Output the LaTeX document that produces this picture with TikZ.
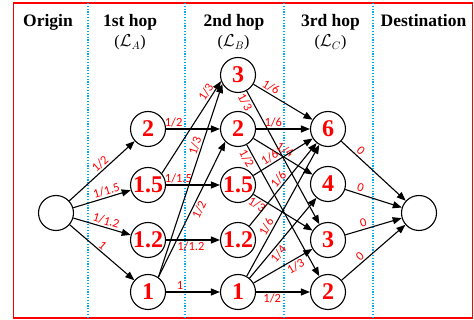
\documentclass[tikz,border=0pt]{standalone}
\usepackage{fontspec}
\setmainfont{Liberation Serif}
\newfontfamily\labfont{Carlito}
\usetikzlibrary{arrows.meta}
\definecolor{dotblue}{RGB}{0,170,240}
\begin{document}
\begin{tikzpicture}[x=1pt,y=-1pt,
  hop/.style={circle,draw,line width=1.1pt,minimum size=35pt,inner sep=0pt,text=red,font=\fontsize{24}{24}\selectfont\bfseries},
  edge/.style={line width=1.1pt,-{Triangle[length=9pt,width=7pt]}},
  lab/.style={text=red,font=\labfont\fontsize{12.5}{12.5}\selectfont,inner sep=1.5pt,sloped},
  head/.style={font=\fontsize{17.5}{18}\selectfont\bfseries,anchor=base},
  subhead/.style={font=\fontsize{16}{16}\selectfont,anchor=base},
  sepline/.style={dotblue,line width=1.3pt,dash pattern=on 1.3pt off 1.5pt}
]
\useasboundingbox (0,0) rectangle (474,320);
% frame and separators
\draw[red,line width=1.6pt] (13.5,3) rectangle (472.5,318);
\foreach \x in {88,185,284,373} \draw[sepline] (\x,3) -- (\x,318);
% headers
\node[head] (hO) at (48,27) {Origin};
\node[head] (hA) at (130,27) {1st hop};
\node[head] (hB) at (234,27) {2nd hop};
\node[head] (hC) at (330.5,27) {3rd hop};
\node[head] (hD) at (423.5,27) {Destination};
\node[subhead] (sA) at (130,47) {($\mathcal{L}_A$)};
\node[subhead] (sB) at (233.5,47) {($\mathcal{L}_B$)};
\node[subhead] (sC) at (330.5,47) {($\mathcal{L}_C$)};
% nodes
\node[hop] (O) at (56,213) {};
\node[hop] (A2) at (148,129) {2};
\node[hop] (A15) at (148,185) {1.5};
\node[hop] (A12) at (148,240) {1.2};
\node[hop] (A1) at (148,292) {1};
\node[hop] (B3) at (238,75) {3};
\node[hop] (B2) at (238,129) {2};
\node[hop] (B15) at (238,185) {1.5};
\node[hop] (B12) at (238,240) {1.2};
\node[hop] (B1) at (238,292) {1};
\node[hop] (C6) at (328,129) {6};
\node[hop] (C4) at (328,184) {4};
\node[hop] (C3) at (328,240) {3};
\node[hop] (C2) at (328,292) {2};
\node[hop] (D) at (419,213) {};
% origin -> 1st hop
\draw[edge] (O) -- node[lab,pos=0.54,above]{1/2} (A2);
\draw[edge] (O) -- node[lab,pos=0.61,above]{1/1.5} (A15);
\draw[edge] (O) -- node[lab,pos=0.54,above]{1/1.2} (A12);
\draw[edge] (O) -- node[lab,pos=0.45,above]{1} (A1);
% 1st -> 2nd hop
\draw[edge] (A2) -- node[lab,pos=0.14,above]{1/2} (B2);
\draw[edge] (A15) -- node[lab,pos=0.23,above]{1/1.5} (B15);
\draw[edge] (A12) -- node[lab,pos=0.46,below]{1/1.2} (B12);
\draw[edge] (A1) -- node[lab,pos=0.26,above]{1} (B1);
\draw[edge] (A15.40) -- node[lab,pos=0.84,above]{1/3} (B3.200);
\draw[edge] (A1.55) -- node[lab,pos=0.67,above]{1/3} (B3.210);
\draw[edge] (A1.55) -- node[lab,pos=0.52,below]{1/2} (B2.225);
% 2nd -> 3rd hop
\draw[edge] (B3) -- node[lab,pos=0.24,above]{1/6} (C6);
\draw[edge] (B3) -- node[lab,pos=0.06,below]{1/3} (C3);
\draw[edge] (B2) -- node[lab,pos=0.32,above]{1/6} (C6);
\draw[edge] (B2) -- node[lab,pos=0.475,above]{1/4} (C4);
\draw[edge] (B2) -- node[lab,pos=0.08,below]{1/2} (C2);
\draw[edge] (B15) -- node[lab,pos=0.335,above]{1/6} (C6);
\draw[edge] (B15) -- node[lab,pos=0.12,below]{1/3} (C3);
\draw[edge] (B12) -- node[lab,pos=0.51,above]{1/6} (C6);
\draw[edge] (B1) -- node[lab,pos=0.35,above]{1/6} (C6);
\draw[edge] (B1) -- node[lab,pos=0.355,below]{1/4} (C4);
\draw[edge] (B1) -- node[lab,pos=0.66,below]{1/3} (C3);
\draw[edge] (B1) -- node[lab,pos=0.3,below]{1/2} (C2);
% 3rd hop -> destination
\draw[edge] (C6) -- node[lab,pos=0.24,above]{0} (D);
\draw[edge] (C4) -- node[lab,pos=0.24,above]{0} (D);
\draw[edge] (C3) -- node[lab,pos=0.35,above]{0} (D);
\draw[edge] (C2) -- node[lab,pos=0.35,above]{0} (D);
\end{tikzpicture}
\end{document}
